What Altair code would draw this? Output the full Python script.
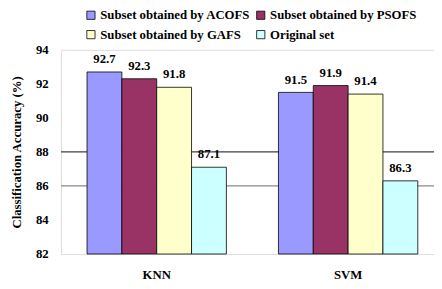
import altair as alt
import pandas as pd

categories = ["KNN", "SVM"]
series = ["Subset obtained by ACOFS", "Subset obtained by PSOFS",
          "Subset obtained by GAFS", "Original set"]
values = {
    "Subset obtained by ACOFS": [92.7, 91.5],
    "Subset obtained by PSOFS": [92.3, 91.9],
    "Subset obtained by GAFS": [91.8, 91.4],
    "Original set": [87.1, 86.3],
}
colors = ["#9999FF", "#993366", "#FFFFCC", "#CCFFFF"]
y_ticks = [82, 84, 86, 88, 90, 92, 94]
grid_values = [86, 88]
grid_colors = ["#8a8a8a", "#404040"]

rows = []
for s in series:
    for c, v in zip(categories, values[s]):
        rows.append({"cat": c, "series": s, "val": v, "label": f"{v:.1f}"})
df = pd.DataFrame(rows)
grid_df = pd.DataFrame({"g": grid_values, "gc": grid_colors})

FONT = "Liberation Serif, Times New Roman, serif"
Y_TITLE = "Classification Accuracy (%)"

x = alt.X("cat:N", sort=categories, title=None,
          scale=alt.Scale(range=[0, 390], paddingInner=0.272, paddingOuter=0.136),
          axis=alt.Axis(labelAngle=0, labelFont=FONT, labelFontWeight="bold",
                        labelFontSize=13, labelColor="black", labelPadding=15,
                        domain=False, ticks=False))
y_scale = alt.Scale(domain=[82, 94], nice=False, zero=False)
y_axis = alt.Axis(values=y_ticks, grid=False, domain=False, ticks=False,
                  labelOverlap=False, labelFlush=False,
                  labelFont=FONT, labelFontWeight="bold", labelFontSize=13,
                  labelColor="black", labelPadding=13,
                  titleFont=FONT, titleFontWeight="bold", titleFontSize=13,
                  titleColor="black", titlePadding=12)
xo = alt.XOffset("series:N", sort=series, scale=alt.Scale(paddingInner=0, paddingOuter=0))

grid = alt.Chart(grid_df).mark_rule(strokeWidth=1.2).encode(
    y=alt.Y("g:Q", scale=y_scale, axis=y_axis, title=Y_TITLE),
    color=alt.Color("gc:N", scale=None),
)

bars = alt.Chart(df).mark_bar(stroke="black", strokeWidth=0.8).encode(
    x=x,
    xOffset=xo,
    y=alt.Y("val:Q", scale=y_scale, title=Y_TITLE, axis=y_axis),
    y2=alt.datum(82),
    color=alt.Color("series:N", sort=series,
                    scale=alt.Scale(domain=series, range=colors),
                    legend=alt.Legend(title=None, orient="none", legendX=24, legendY=-42,
                                      direction="horizontal", columns=2,
                                      symbolType="square", symbolSize=70,
                                      symbolStrokeColor="black", symbolStrokeWidth=0.8,
                                      labelFont=FONT, labelFontWeight="bold",
                                      labelFontSize=13, labelColor="black",
                                      columnPadding=4, rowPadding=6, labelOffset=3,
                                      labelLimit=300)),
)

labels = alt.Chart(df).mark_text(baseline="bottom", dy=-6, font=FONT, fontWeight="bold",
                                 fontSize=13, color="black").encode(
    x=x, xOffset=xo, y=alt.Y("val:Q", scale=y_scale, title=Y_TITLE, axis=y_axis),
    text="label:N")

chart = alt.layer(grid, bars, labels).properties(
    width=380, height=208,
    autosize=alt.AutoSizeParams(type="none"),
    padding={"left": 54, "top": 40, "right": 0, "bottom": 33},
).configure_view(fill="#C0C0C0", stroke=None).configure(background="white", font=FONT)

chart.save("out.html", embed_options={"renderer": "svg", "actions": False})
